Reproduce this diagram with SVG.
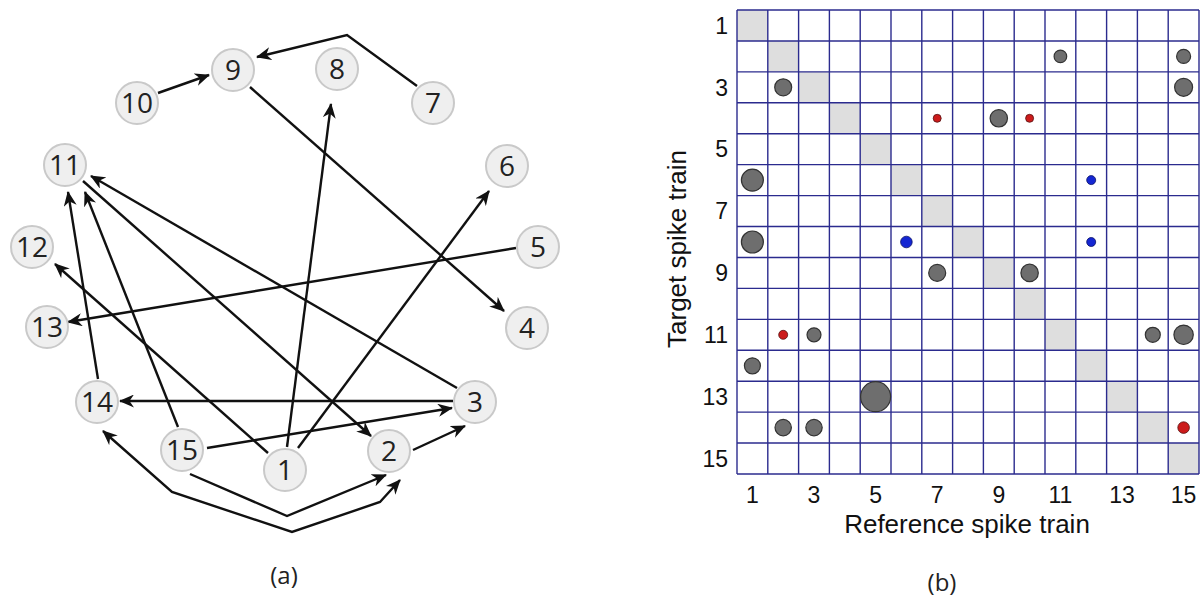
<svg xmlns="http://www.w3.org/2000/svg" width="1203" height="600" viewBox="0 0 1203 600">
<style>
.node circle{fill:#efefef;stroke:#c9c9c9;stroke-width:2}
.node text{font-family:"Open Sans","Noto Sans",sans-serif;font-size:28px;fill:#222;text-anchor:middle}
.edge{fill:none;stroke:#111;stroke-width:2.4;stroke-linejoin:miter}
.cap{font-family:"Open Sans","Noto Sans",sans-serif;font-size:24px;fill:#222;text-anchor:middle}
.tick{font-family:"Liberation Sans",Arial,sans-serif;font-size:23px;fill:#111}
.axt{font-family:"Liberation Sans",Arial,sans-serif;font-size:26px;fill:#111;text-anchor:middle}
.grid line{stroke:#2b2b8e;stroke-width:1.4}
.diag{fill:#dedede}
.g{fill:#6e6e6e;stroke:#333;stroke-width:1.2}
.r{fill:#cc1b1b;stroke:#551111;stroke-width:0.8}
.b{fill:#1426d2;stroke:#0a1066;stroke-width:0.8}
</style>
<defs>
<marker id="ah" viewBox="0 0 15 13" refX="14" refY="6.5" markerWidth="15" markerHeight="13" markerUnits="userSpaceOnUse" orient="auto-start-reverse">
<path d="M0,0 L15,6.5 L0,13 L4.5,6.5 z" fill="#111"/>
</marker>
</defs>
<rect width="1203" height="600" fill="#fff"/>

<g id="connectors">
<path class="edge" d="M158,93 L209,75" marker-end="url(#ah)"/>
<path class="edge" d="M417,86 L347,35 L257,57" marker-end="url(#ah)"/>
<path class="edge" d="M250,87 L504,311" marker-end="url(#ah)"/>
<path class="edge" d="M287,447 L331,104" marker-end="url(#ah)"/>
<path class="edge" d="M298,448 L489,191" marker-end="url(#ah)"/>
<path class="edge" d="M516,248 L68,322" marker-end="url(#ah)"/>
<path class="edge" d="M268,453 L55,264" marker-end="url(#ah)"/>
<path class="edge" d="M98,379 L68,192" marker-end="url(#ah)"/>
<path class="edge" d="M178,427 L85,192" marker-end="url(#ah)"/>
<path class="edge" d="M83,181 L371,436" marker-end="url(#ah)"/>
<path class="edge" d="M457,388 L91,176" marker-end="url(#ah)"/>
<path class="edge" d="M453,401 L120,401" marker-end="url(#ah)"/>
<path class="edge" d="M207,448 L452,408" marker-end="url(#ah)"/>
<path class="edge" d="M413,450 L465,426" marker-end="url(#ah)"/>
<path class="edge" d="M190,474 L287,516 L386,475" marker-end="url(#ah)"/>
<path class="edge" d="M103,431 L172,492 L292,532 L380,502 L400,480" marker-start="url(#ah)" marker-end="url(#ah)"/>
</g>

<g id="n1" class="node"><circle cx="285" cy="470" r="21"/><text x="285" y="480">1</text></g>
<g id="n2" class="node"><circle cx="389" cy="451" r="21"/><text x="389" y="461">2</text></g>
<g id="n3" class="node"><circle cx="475" cy="402" r="21"/><text x="475" y="412">3</text></g>
<g id="n4" class="node"><circle cx="527" cy="328" r="21"/><text x="527" y="338">4</text></g>
<g id="n5" class="node"><circle cx="538" cy="247" r="21"/><text x="538" y="257">5</text></g>
<g id="n6" class="node"><circle cx="507" cy="166" r="21"/><text x="507" y="176">6</text></g>
<g id="n7" class="node"><circle cx="433" cy="103" r="21"/><text x="433" y="113">7</text></g>
<g id="n8" class="node"><circle cx="337" cy="69" r="21"/><text x="337" y="79">8</text></g>
<g id="n9" class="node"><circle cx="233" cy="70" r="21"/><text x="233" y="80">9</text></g>
<g id="n10" class="node"><circle cx="137" cy="103" r="21"/><text x="137" y="113">10</text></g>
<g id="n11" class="node"><circle cx="65" cy="165" r="21"/><text x="65" y="175">11</text></g>
<g id="n12" class="node"><circle cx="32" cy="247" r="21"/><text x="32" y="257">12</text></g>
<g id="n13" class="node"><circle cx="47" cy="327" r="21"/><text x="47" y="337">13</text></g>
<g id="n14" class="node"><circle cx="97" cy="402" r="21"/><text x="97" y="412">14</text></g>
<g id="n15" class="node"><circle cx="182" cy="450" r="21"/><text x="182" y="460">15</text></g>

<text class="cap" x="284" y="584">(a)</text>

<g id="matrix">
<rect x="737" y="10" width="462" height="464" fill="#fff"/>
<rect class="diag" x="737" y="10" width="30.8" height="30.93"/>
<rect class="diag" x="767.8" y="40.93" width="30.8" height="30.93"/>
<rect class="diag" x="798.6" y="71.87" width="30.8" height="30.93"/>
<rect class="diag" x="829.4" y="102.8" width="30.8" height="30.93"/>
<rect class="diag" x="860.2" y="133.73" width="30.8" height="30.93"/>
<rect class="diag" x="891" y="164.67" width="30.8" height="30.93"/>
<rect class="diag" x="921.8" y="195.6" width="30.8" height="30.93"/>
<rect class="diag" x="952.6" y="226.53" width="30.8" height="30.93"/>
<rect class="diag" x="983.4" y="257.47" width="30.8" height="30.93"/>
<rect class="diag" x="1014.2" y="288.4" width="30.8" height="30.93"/>
<rect class="diag" x="1045" y="319.33" width="30.8" height="30.93"/>
<rect class="diag" x="1075.8" y="350.27" width="30.8" height="30.93"/>
<rect class="diag" x="1106.6" y="381.2" width="30.8" height="30.93"/>
<rect class="diag" x="1137.4" y="412.13" width="30.8" height="30.93"/>
<rect class="diag" x="1168.2" y="443.07" width="30.8" height="30.93"/>
<g class="grid">
<line x1="737" y1="10" x2="737" y2="474"/>
<line x1="767.8" y1="10" x2="767.8" y2="474"/>
<line x1="798.6" y1="10" x2="798.6" y2="474"/>
<line x1="829.4" y1="10" x2="829.4" y2="474"/>
<line x1="860.2" y1="10" x2="860.2" y2="474"/>
<line x1="891" y1="10" x2="891" y2="474"/>
<line x1="921.8" y1="10" x2="921.8" y2="474"/>
<line x1="952.6" y1="10" x2="952.6" y2="474"/>
<line x1="983.4" y1="10" x2="983.4" y2="474"/>
<line x1="1014.2" y1="10" x2="1014.2" y2="474"/>
<line x1="1045" y1="10" x2="1045" y2="474"/>
<line x1="1075.8" y1="10" x2="1075.8" y2="474"/>
<line x1="1106.6" y1="10" x2="1106.6" y2="474"/>
<line x1="1137.4" y1="10" x2="1137.4" y2="474"/>
<line x1="1168.2" y1="10" x2="1168.2" y2="474"/>
<line x1="1199" y1="10" x2="1199" y2="474"/>
<line x1="737" y1="10" x2="1199" y2="10"/>
<line x1="737" y1="40.93" x2="1199" y2="40.93"/>
<line x1="737" y1="71.87" x2="1199" y2="71.87"/>
<line x1="737" y1="102.8" x2="1199" y2="102.8"/>
<line x1="737" y1="133.73" x2="1199" y2="133.73"/>
<line x1="737" y1="164.67" x2="1199" y2="164.67"/>
<line x1="737" y1="195.6" x2="1199" y2="195.6"/>
<line x1="737" y1="226.53" x2="1199" y2="226.53"/>
<line x1="737" y1="257.47" x2="1199" y2="257.47"/>
<line x1="737" y1="288.4" x2="1199" y2="288.4"/>
<line x1="737" y1="319.33" x2="1199" y2="319.33"/>
<line x1="737" y1="350.27" x2="1199" y2="350.27"/>
<line x1="737" y1="381.2" x2="1199" y2="381.2"/>
<line x1="737" y1="412.13" x2="1199" y2="412.13"/>
<line x1="737" y1="443.07" x2="1199" y2="443.07"/>
<line x1="737" y1="474" x2="1199" y2="474"/>
</g>
<circle class="g" cx="1060.4" cy="56.4" r="6.3"/>
<circle class="g" cx="1183.6" cy="56.4" r="7"/>
<circle class="g" cx="783.2" cy="87.3" r="8.5"/>
<circle class="g" cx="1183.6" cy="87.3" r="9"/>
<circle class="r" cx="937.2" cy="118.3" r="4"/>
<circle class="g" cx="998.8" cy="118.3" r="8.7"/>
<circle class="r" cx="1029.6" cy="118.3" r="4"/>
<circle class="g" cx="752.4" cy="180.1" r="11"/>
<circle class="b" cx="1091.2" cy="180.1" r="4.5"/>
<circle class="g" cx="752.4" cy="242" r="11"/>
<circle class="b" cx="906.4" cy="242" r="5.8"/>
<circle class="b" cx="1091.2" cy="242" r="4.5"/>
<circle class="g" cx="937.2" cy="272.9" r="8.5"/>
<circle class="g" cx="1029.6" cy="272.9" r="8.7"/>
<circle class="r" cx="783.2" cy="334.8" r="4.5"/>
<circle class="g" cx="814" cy="334.8" r="7"/>
<circle class="g" cx="1152.8" cy="334.8" r="7.5"/>
<circle class="g" cx="1183.6" cy="334.8" r="9.7"/>
<circle class="g" cx="752.4" cy="365.8" r="8"/>
<circle class="g" cx="875.6" cy="396.7" r="15"/>
<circle class="g" cx="783.2" cy="427.6" r="8.2"/>
<circle class="g" cx="814" cy="427.6" r="8.2"/>
<circle class="r" cx="1183.6" cy="427.6" r="5.8"/>
</g>

<g id="yticks" class="tick" text-anchor="end">
<text x="728" y="33.7">1</text>
<text x="728" y="95.5">3</text>
<text x="728" y="157.4">5</text>
<text x="728" y="219.3">7</text>
<text x="728" y="281.1">9</text>
<text x="728" y="343">11</text>
<text x="728" y="404.9">13</text>
<text x="728" y="466.8">15</text>
</g>
<g id="xticks" class="tick" text-anchor="middle">
<text x="752.4" y="503">1</text>
<text x="814" y="503">3</text>
<text x="875.6" y="503">5</text>
<text x="937.2" y="503">7</text>
<text x="998.8" y="503">9</text>
<text x="1060.4" y="503">11</text>
<text x="1122" y="503">13</text>
<text x="1183.6" y="503">15</text>
</g>
<text class="axt" x="967" y="533">Reference spike train</text>
<text class="axt" x="0" y="0" transform="translate(686,249) rotate(-90)">Target spike train</text>
<text class="cap" x="942" y="591">(b)</text>
</svg>
